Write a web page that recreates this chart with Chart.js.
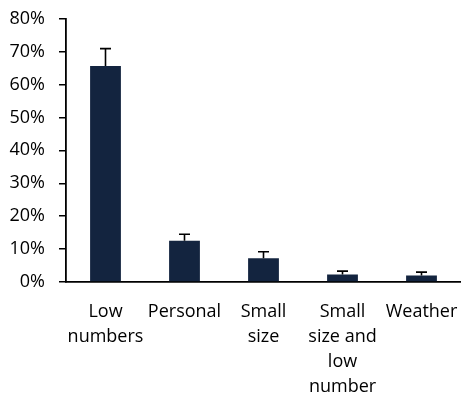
<!DOCTYPE html>
<html>
<head>
<meta charset="utf-8">
<script src="https://cdn.jsdelivr.net/npm/chart.js@4/dist/chart.umd.min.js"></script>
<style>
  html, body { margin: 0; padding: 0; background: #fff; }
  canvas { display: block; }
</style>
</head>
<body>
<canvas id="chart" width="461" height="396"></canvas>
<script>
// Reasons given (share of responses, %) with upper error bars
const categories = [
  ['Low', 'numbers'],
  ['Personal'],
  ['Small', 'size'],
  ['Small', 'size and', 'low', 'number'],
  ['Weather']
];
const shares = [65.6, 12.5, 7.2, 2.3, 2.0];
const errors = [5.3, 2.0, 2.0, 1.0, 1.0];
const yTicks = [0, 10, 20, 30, 40, 50, 60, 70, 80];

const FONT = { family: "'Open Sans', sans-serif", size: 18, lineHeight: 25 / 18 };

// Draws the upper half of an error bar (stem + cap) above each bar
const errorBarPlugin = {
  id: 'upperErrorBars',
  afterDatasetsDraw(chart) {
    const { ctx, scales: { x, y } } = chart;
    const meta = chart.getDatasetMeta(0);
    ctx.save();
    ctx.strokeStyle = '#000';
    ctx.lineWidth = 1.6;
    meta.data.forEach((bar, i) => {
      const cx = x.getPixelForValue(i);
      const yTop = y.getPixelForValue(shares[i]);
      const yErr = y.getPixelForValue(shares[i] + errors[i]);
      ctx.beginPath();
      ctx.moveTo(cx, yTop);
      ctx.lineTo(cx, yErr);
      ctx.moveTo(cx - 5.5, yErr);
      ctx.lineTo(cx + 5.5, yErr);
      ctx.stroke();
    });
    ctx.restore();
  }
};

new Chart(document.getElementById('chart'), {
  type: 'bar',
  data: {
    labels: categories,
    datasets: [{
      data: shares,
      backgroundColor: '#13243f',
      borderWidth: 0,
      categoryPercentage: 1,
      barPercentage: 0.39
    }]
  },
  options: {
    responsive: false,
    animation: false,
    devicePixelRatio: 1,
    layout: { padding: { top: 18.7, right: 0, bottom: 0, left: 0 } },
    plugins: { legend: { display: false }, tooltip: { enabled: false } },
    scales: {
      x: {
        grid: { display: false, drawTicks: false },
        border: { display: true, color: '#000', width: 1.8 },
        ticks: { color: '#000', font: FONT, padding: 17, maxRotation: 0, autoSkip: false },
        afterFit(scale) {
          scale.height = 114;
          scale.paddingLeft = 0;
          scale.paddingRight = 0;
        }
      },
      y: {
        min: 0,
        max: 80,
        afterBuildTicks(scale) { scale.ticks = yTicks.map(v => ({ value: v })); },
        grid: { drawOnChartArea: false, drawTicks: true, tickLength: 7, color: '#000', lineWidth: 1.5 },
        border: { display: true, color: '#000', width: 1.8 },
        ticks: { color: '#000', font: FONT, padding: 14, callback: v => v + '%' },
        afterFit(scale) {
          scale.width = 66;
          scale.paddingTop = 0;
          scale.paddingBottom = 0;
        }
      }
    }
  },
  plugins: [errorBarPlugin]
});
</script>
</body>
</html>
